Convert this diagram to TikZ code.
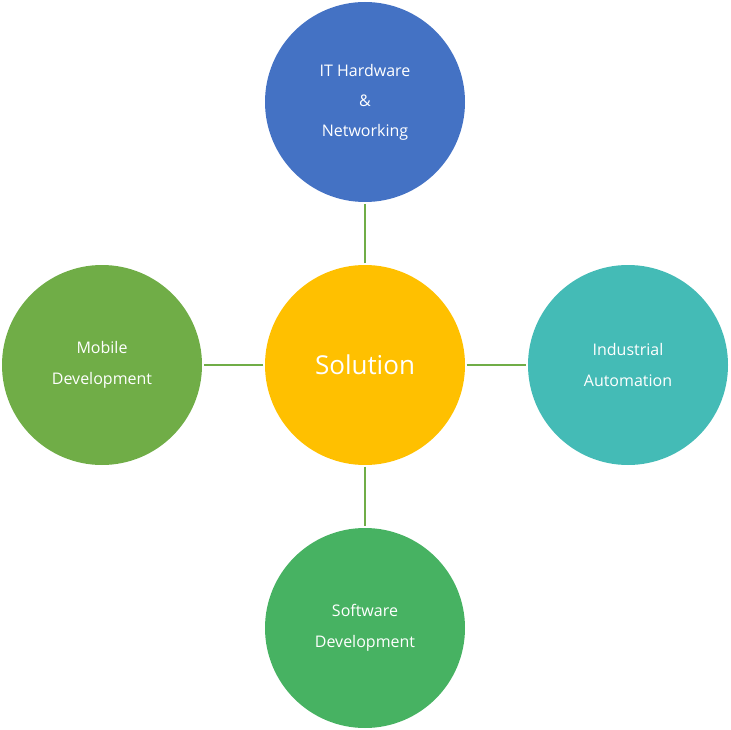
\documentclass[tikz,border=0pt]{standalone}
\usepackage{fontspec}
\setmainfont{Open Sans}
\definecolor{cblue}{HTML}{4472C4}
\definecolor{cgold}{HTML}{FFC000}
\definecolor{cteal}{HTML}{44BBB6}
\definecolor{cgreenL}{HTML}{70AD47}
\definecolor{cgreenB}{HTML}{47B262}
\begin{document}
\begin{tikzpicture}[x=1pt,y=-1pt,
  bub/.style={circle,minimum size=200pt,inner sep=0pt,text=white,align=center,font=\fontsize{16}{30}\selectfont},
  con/.style={draw=cgreenL,line width=1.2pt,shorten <=1.5pt,shorten >=1.5pt}]
\useasboundingbox (0,0) rectangle (731,730);
\node[bub,fill=cgold,font=\fontsize{26}{30}\selectfont] (sol) at (365,365) {Solution};
\node[bub,fill=cblue,font=\fontsize{16}{30}\selectfont] (it) at (365,102) {IT Hardware\\\&\\Networking};
\node[bub,fill=cgreenL,font=\fontsize{16}{31}\selectfont] (mob) at (102,365) {Mobile\\Development};
\node[bub,fill=cteal,font=\fontsize{16}{31}\selectfont] (ind) at (628,365) {Industrial\\Automation};
\node[bub,fill=cgreenB,font=\fontsize{16}{31}\selectfont] (sw) at (365,628) {Software\\Development};
\draw[con] (sol) -- (it);
\draw[con] (sol) -- (mob);
\draw[con] (sol) -- (ind);
\draw[con] (sol) -- (sw);
\end{tikzpicture}
\end{document}
